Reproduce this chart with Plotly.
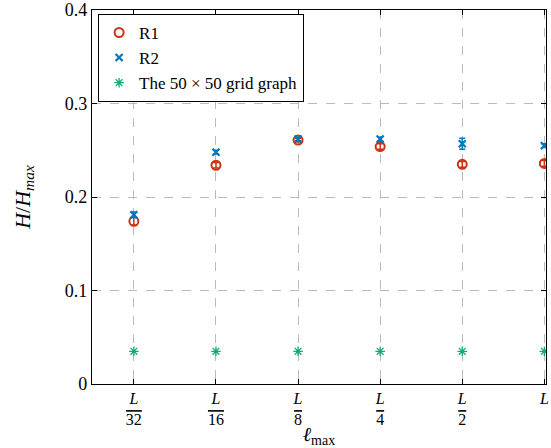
import plotly.graph_objects as go

categories = ["L/32", "L/16", "L/8", "L/4", "L/2", "L"]
tick_labels = [
    "<i>L</i><br><span style='text-decoration:overline'>32</span>",
    "<i>L</i><br><span style='text-decoration:overline'>16</span>",
    "<i>L</i><br><span style='text-decoration:overline'>8</span>",
    "<i>L</i><br><span style='text-decoration:overline'>4</span>",
    "<i>L</i><br><span style='text-decoration:overline'>2</span>",
    "<i>L</i>",
]
r1_values = [0.174, 0.234, 0.261, 0.254, 0.235, 0.236]
r1_errors = [0.004, 0.003, 0.002, 0.003, 0.003, 0.003]
r2_values = [0.181, 0.248, 0.262, 0.262, 0.257, 0.255]
r2_errors = [0.003, 0.002, 0.002, 0.002, 0.006, 0.002]
grid_values = [0.035, 0.035, 0.035, 0.035, 0.035, 0.035]
y_ticks = [0, 0.1, 0.2, 0.3, 0.4]
y_tick_labels = ["0", "0.1", "0.2", "0.3", "0.4"]

xpos = list(range(len(categories)))
FONT = "Liberation Serif"
RED = "#CC3311"
BLUE = "#0077BB"
GREEN = "#11AA77"

fig = go.Figure()
fig.add_trace(go.Scatter(
    x=xpos, y=r1_values, mode="markers", name="R1",
    marker=dict(symbol="circle-open", size=9, color=RED, line=dict(width=2, color=RED)),
    error_y=dict(type="data", array=r1_errors, color=RED, thickness=1.5, width=3),
))
fig.add_trace(go.Scatter(
    x=xpos, y=r2_values, mode="markers", name="R2",
    marker=dict(symbol="x-thin-open", size=7, color=BLUE, line=dict(width=2.2, color=BLUE)),
    error_y=dict(type="data", array=r2_errors, color=BLUE, thickness=1.5, width=3),
))
fig.add_trace(go.Scatter(
    x=xpos, y=grid_values, mode="markers", name="The 50 × 50 grid graph",
    marker=dict(symbol="asterisk-open", size=8, color=GREEN, line=dict(width=1.3, color=GREEN)),
))

axis_common = dict(
    showline=True, linecolor="black", linewidth=1.2, mirror="ticks",
    ticks="inside", ticklen=5, tickcolor="black",
    showgrid=True, gridcolor="#BBBBBB", griddash="dash", gridwidth=1,
    zeroline=False, automargin=False, ticklabeloverflow="allow",
)

fig.update_layout(
    width=551, height=448,
    margin=dict(l=92, r=5, t=10, b=64),
    plot_bgcolor="white", paper_bgcolor="white",
    font=dict(family=FONT, size=18, color="black"),
    showlegend=True,
    legend=dict(
        x=0.013, y=0.99, xanchor="left", yanchor="top",
        bgcolor="white", bordercolor="black", borderwidth=1.2,
        font=dict(family=FONT, size=17, color="black"),
        itemwidth=30, tracegroupgap=0,
    ),
    xaxis=dict(
        **axis_common,
        range=[-0.51, 5.02],
        tickmode="array", tickvals=xpos, ticktext=tick_labels,
        tickfont=dict(family=FONT, size=16, color="black"),
        title=dict(text="<i>ℓ</i><sub>max</sub>", standoff=0, font=dict(family=FONT, size=20)),
    ),
    yaxis=dict(
        **axis_common,
        range=[0, 0.4001],
        tickmode="array", tickvals=y_ticks, ticktext=y_tick_labels,
        tickfont=dict(family=FONT, size=18, color="black"),
        title=dict(text="<i>H</i>/<i>H<sub>max</sub></i>", standoff=28, font=dict(family=FONT, size=22)),
    ),
)

fig.write_html("out.html")
